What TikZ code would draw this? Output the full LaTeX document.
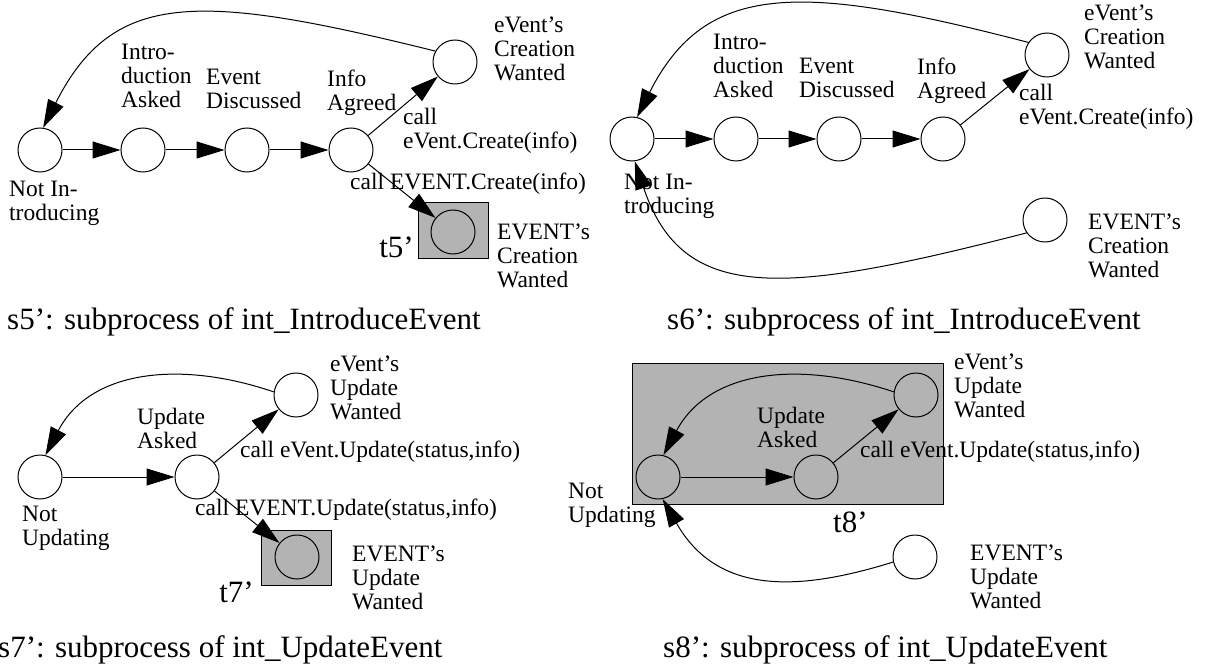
\documentclass[tikz,border=0pt]{standalone}
\usepackage{fontspec}
\setmainfont{Liberation Serif}
\usetikzlibrary{arrows.meta}
\definecolor{boxgray}{RGB}{179,179,179}
\begin{document}
\begin{tikzpicture}[x=1pt,y=-1pt,
  st/.style={circle,draw,line width=1pt,minimum size=44pt,inner sep=0pt},
  lbl/.style={font=\fontsize{23.5}{24}\selectfont,align=left,inner sep=0pt,anchor=north west},
  ttl/.style={font=\fontsize{31}{33}\selectfont,inner sep=0pt,anchor=west},
  arr/.style={line width=1pt,-{Triangle[length=28pt,width=17pt]}},
  tbox/.style={draw,fill=boxgray,line width=1pt,inner sep=0pt}]
\useasboundingbox (0,0) rectangle (1206,668);
% ---------- s5'
\node[tbox,minimum width=70pt,minimum height=55pt] (b5) at (453,230.5) {};
\node[st] (a1) at (40,150) {};
\node[st] (a2) at (143,150) {};
\node[st] (a3) at (247,150) {};
\node[st] (a4) at (351,150) {};
\node[st] (a5) at (455,62) {};
\node[st] (a6) at (453,232) {};
\draw[arr] (a1) -- (a2);
\draw[arr] (a2) -- (a3);
\draw[arr] (a3) -- (a4);
\draw[arr] (a4) -- (a5);
\draw[arr] (a4) -- (a6);
\draw[arr] (a5.151) .. controls (197,-8) and (113,-10) .. (a1.82);
\node[lbl] (la2) at (121,44) {Intro-\\duction\\Asked};
\node[lbl] (la3) at (206,69) {Event\\Discussed};
\node[lbl] (la4) at (327,70) {Info\\Agreed};
\node[lbl] (la5) at (494,17) {eVent’s\\Creation\\Wanted};
\node[lbl] (lc5) at (403,108) {call\\eVent.Create(info)};
\node[lbl] (lC5) at (350,173) {call EVENT.Create(info)};
\node[lbl] (la6) at (497,224) {EVENT’s\\Creation\\Wanted};
\node[lbl] (la1) at (9,181) {Not In-\\troducing};
\node[ttl,anchor=east] (t5) at (414,247) {t5’};
\node[ttl] (s5) at (7,322) {s5’: subprocess of int\_IntroduceEvent};
% ---------- s6'
\node[st] (c1) at (632,139) {};
\node[st] (c2) at (736,139) {};
\node[st] (c3) at (839,139) {};
\node[st] (c4) at (943,139) {};
\node[st] (c5) at (1047,55) {};
\node[st] (c6) at (1045,220) {};
\draw[arr] (c1) -- (c2);
\draw[arr] (c2) -- (c3);
\draw[arr] (c3) -- (c4);
\draw[arr] (c4) -- (c5);
\draw[arr] (c5.146) .. controls (800,-17) and (706,-19) .. (c1.77);
\draw[arr] (c6.215) .. controls (785,295) and (683,305) .. (c1.277);
\node[lbl] (lc2) at (713,34) {Intro-\\duction\\Asked};
\node[lbl] (lc3) at (799,58) {Event\\Discussed};
\node[lbl] (lc4) at (917,58) {Info\\Agreed};
\node[lbl] (lcc5) at (1084,5) {eVent’s\\Creation\\Wanted};
\node[lbl] (lcall6) at (1019,84) {call\\eVent.Create(info)};
\node[lbl] (lc1) at (624,174) {Not In-\\troducing};
\node[lbl] (lc6) at (1088,214) {EVENT’s\\Creation\\Wanted};
\node[ttl] (s6) at (667,322) {s6’: subprocess of int\_IntroduceEvent};
% ---------- s7'
\node[tbox,minimum width=70pt,minimum height=55pt] (b7) at (296,557.5) {};
\node[st] (d1) at (40,477) {};
\node[st] (d2) at (197,477) {};
\node[st] (d3) at (296,395) {};
\node[st] (d4) at (297,557) {};
\draw[arr] (d1) -- (d2);
\draw[arr] (d2) -- (d3);
\draw[arr] (d2) -- (d4);
\draw[arr] (d3.172) .. controls (180,360) and (90,370) .. (d1.76);
\node[lbl] (ld2) at (137,408) {Update\\Asked};
\node[lbl] (ld1) at (22,506) {Not\\Updating};
\node[lbl] (ld3) at (330,356) {eVent’s\\Update\\Wanted};
\node[lbl] (lcall7) at (240,441) {call eVent.Update(status,info)};
\node[lbl] (lCall7) at (195,499) {call EVENT.Update(status,info)};
\node[lbl] (ld4) at (352,546) {EVENT’s\\Update\\Wanted};
\node[ttl,anchor=east] (t7) at (254,592) {t7’};
\node[ttl] (s7) at (-2,650) {s7’: subprocess of int\_UpdateEvent};
% ---------- s8'
\node[tbox,minimum width=311pt,minimum height=141pt] (b8) at (787.5,433.5) {};
\node[st] (e1) at (658,477) {};
\node[st] (e2) at (816,477) {};
\node[st] (e3) at (916,395) {};
\node[st] (e4) at (915,557) {};
\draw[arr] (e1) -- (e2);
\draw[arr] (e2) -- (e3);
\draw[arr] (e3.172) .. controls (799,360) and (709,370) .. (e1.76);
\draw[arr] (e4.193) .. controls (800,591) and (718,596) .. (e1.282);
\node[lbl] (le2) at (757,407) {Update\\Asked};
\node[lbl] (le1) at (568,483) {Not\\Updating};
\node[lbl] (le3) at (954,354) {eVent’s\\Update\\Wanted};
\node[lbl] (lcall8) at (860,441) {call eVent.Update(status,info)};
\node[lbl] (le4) at (970,545) {EVENT’s\\Update\\Wanted};
\node[ttl,anchor=west] (t8) at (833,522) {t8’};
\node[ttl] (s8) at (663,650) {s8’: subprocess of int\_UpdateEvent};
\end{tikzpicture}
\end{document}
